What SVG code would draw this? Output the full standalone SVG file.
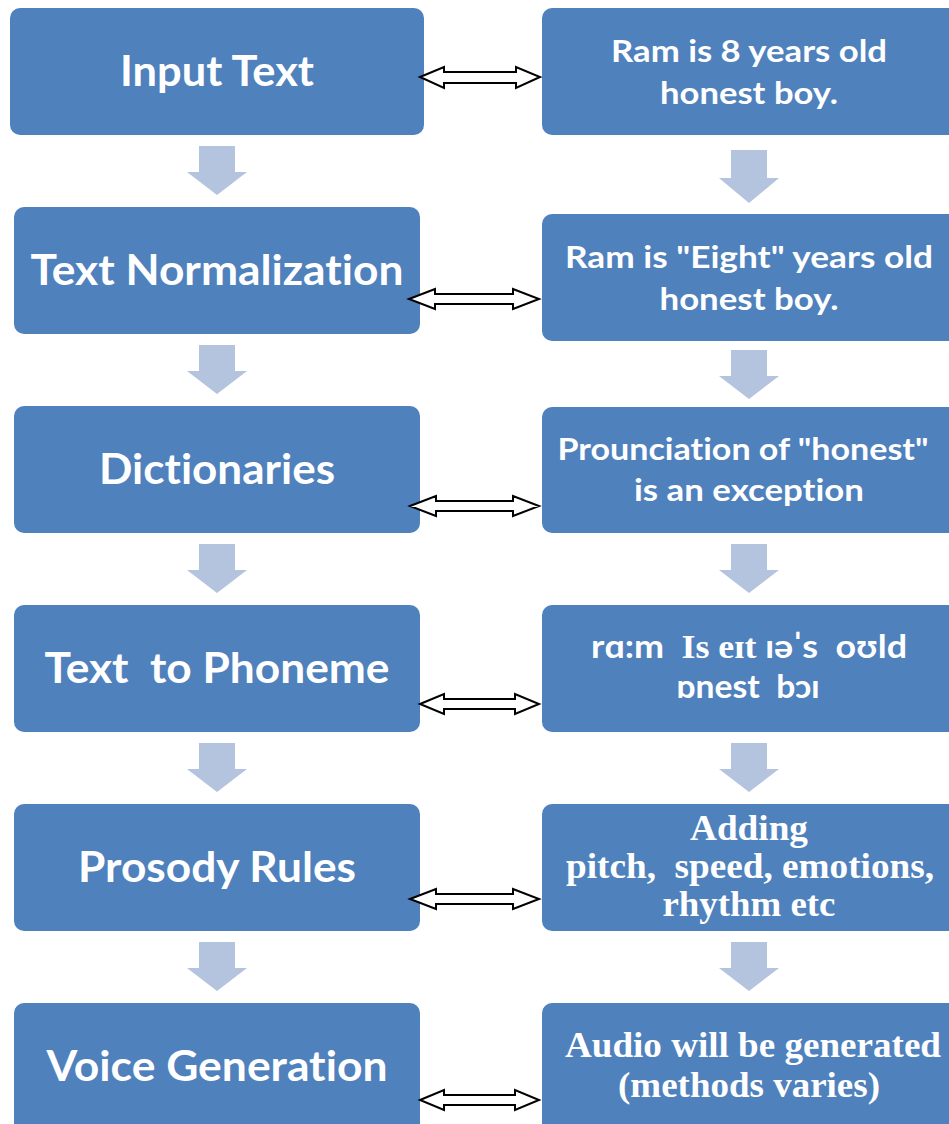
<svg xmlns="http://www.w3.org/2000/svg" width="949" height="1124" viewBox="0 0 949 1124">
  <style>
    .box { fill: #4F81BD; }
    .lbl { fill: #FFFFFF; font-family: Lato, "Open Sans", "Liberation Sans", sans-serif; font-weight: bold; text-anchor: middle; font-variant-ligatures: none; font-feature-settings: "liga" 0, "clig" 0, "dlig" 0; }
    .big { font-size: 42px; }
    .small { font-size: 31px; }
    .ipa { font-size: 33px; }
    .serif { font-family: "Liberation Serif", "DejaVu Serif", serif; font-weight: bold; }
    .tall { font-size: 35px; }
    .step { fill: #B4C3DE; }
    .link { fill: #FFFFFF; stroke: #000000; stroke-width: 2; stroke-linejoin: miter; }
  </style>
  <defs>
    <!-- block arrow pointing down, origin at the top centre -->
    <polygon id="down" class="step" points="-18,0 18,0 18,26 30,26 0,49 -30,26 -18,26"/>
  </defs>
  <rect width="949" height="1124" fill="#FFFFFF"/>

  <!-- pipeline stages -->
  <g id="input-text">
    <rect class="box" x="10" y="8" width="414" height="127" rx="10"/>
    <text class="lbl big" x="217" y="86" textLength="194" lengthAdjust="spacingAndGlyphs">Input Text</text>
  </g>
  <g id="text-normalization">
    <rect class="box" x="14" y="207" width="406" height="127" rx="10"/>
    <text class="lbl big" x="217" y="285" textLength="373" lengthAdjust="spacingAndGlyphs">Text Normalization</text>
  </g>
  <g id="dictionaries">
    <rect class="box" x="14" y="406" width="406" height="127" rx="10"/>
    <text class="lbl big" x="217" y="484" textLength="236" lengthAdjust="spacingAndGlyphs">Dictionaries</text>
  </g>
  <g id="text-to-phoneme">
    <rect class="box" x="14" y="605" width="406" height="127" rx="10"/>
    <text class="lbl big" x="217" y="683" textLength="345" lengthAdjust="spacingAndGlyphs" xml:space="preserve">Text  to Phoneme</text>
  </g>
  <g id="prosody-rules">
    <rect class="box" x="14" y="804" width="406" height="127" rx="10"/>
    <text class="lbl big" x="217" y="882" textLength="278" lengthAdjust="spacingAndGlyphs">Prosody Rules</text>
  </g>
  <g id="voice-generation">
    <rect class="box" x="14" y="1003" width="406" height="140" rx="10"/>
    <text class="lbl big" x="217" y="1081" textLength="341" lengthAdjust="spacingAndGlyphs">Voice Generation</text>
  </g>

  <!-- worked example -->
  <g id="example-input">
    <rect class="box" x="542" y="8" width="430" height="127" rx="10"/>
    <text class="lbl small" x="749" y="62" textLength="276" lengthAdjust="spacingAndGlyphs">Ram is 8 years old</text>
    <text class="lbl small" x="749" y="104" textLength="178" lengthAdjust="spacingAndGlyphs">honest boy.</text>
  </g>
  <g id="example-normalized">
    <rect class="box" x="542" y="214" width="430" height="127" rx="10"/>
    <text class="lbl small" x="749" y="268" textLength="368" lengthAdjust="spacingAndGlyphs">Ram is "Eight" years old</text>
    <text class="lbl small" x="749" y="310" textLength="179" lengthAdjust="spacingAndGlyphs">honest boy.</text>
  </g>
  <g id="example-dictionary">
    <rect class="box" x="542" y="407" width="430" height="126" rx="10"/>
    <text class="lbl small" x="743" y="460" textLength="371" lengthAdjust="spacingAndGlyphs">Prounciation of "honest"</text>
    <text class="lbl small" x="749" y="501" textLength="230" lengthAdjust="spacingAndGlyphs">is an exception</text>
  </g>
  <g id="example-phonemes">
    <rect class="box" x="542" y="605" width="430" height="127" rx="10"/>
    <text class="lbl ipa" x="749" y="658" textLength="316" lengthAdjust="spacingAndGlyphs" xml:space="preserve">rɑ:m  <tspan class="serif">Is eɪt</tspan> ɪəˈs  oʊld</text>
    <text class="lbl ipa" x="748" y="698" textLength="143" lengthAdjust="spacingAndGlyphs" xml:space="preserve">ɒnest  bɔɪ</text>
  </g>
  <g id="example-prosody">
    <rect class="box" x="542" y="804" width="430" height="127" rx="10"/>
    <text class="lbl tall serif" x="749" y="840" textLength="118" lengthAdjust="spacingAndGlyphs">Adding</text>
    <text class="lbl tall serif" x="750" y="878" textLength="368" lengthAdjust="spacingAndGlyphs" xml:space="preserve">pitch,  speed, emotions,</text>
    <text class="lbl tall serif" x="749" y="916" textLength="173" lengthAdjust="spacingAndGlyphs">rhythm etc</text>
  </g>
  <g id="example-audio">
    <rect class="box" x="542" y="1003" width="430" height="140" rx="10"/>
    <text class="lbl tall serif" x="753" y="1057" textLength="376" lengthAdjust="spacingAndGlyphs">Audio will be generated</text>
    <text class="lbl tall serif" x="749" y="1097" textLength="262" lengthAdjust="spacingAndGlyphs">(methods varies)</text>
  </g>

  <!-- connectors -->
  <g id="connectors">
    <use href="#down" x="217" y="146"/>
    <use href="#down" x="217" y="345"/>
    <use href="#down" x="217" y="544"/>
    <use href="#down" x="217" y="743"/>
    <use href="#down" x="217" y="942"/>

    <use href="#down" x="749" y="150" transform="translate(749 150) scale(1 1.08) translate(-749 -150)"/>
    <use href="#down" x="749" y="350"/>
    <use href="#down" x="749" y="544"/>
    <use href="#down" x="749" y="743"/>
    <use href="#down" x="749" y="942"/>

    <!-- two-way links between each stage and its example -->
    <polygon class="link" points="420,77 444,67 444,72 516,72 516,67 540,77 516,88 516,83 444,83 444,88"/>
    <polygon class="link" points="409,299 435,289 435,294 513,294 513,289 539,299 513,309 513,304 435,304 435,309"/>
    <polygon class="link" points="410,506 436,496 436,501 513,501 513,496 539,506 513,516 513,511 436,511 436,516"/>
    <polygon class="link" points="420,704 444,694 444,699 515,699 515,694 539,704 515,714 515,709 444,709 444,714"/>
    <polygon class="link" points="410,899 436,889 436,894 513,894 513,889 539,899 513,909 513,904 436,904 436,909"/>
    <polygon class="link" points="420,1100 444,1090 444,1095 515,1095 515,1090 539,1100 515,1110 515,1105 444,1105 444,1110"/>
  </g>
</svg>
